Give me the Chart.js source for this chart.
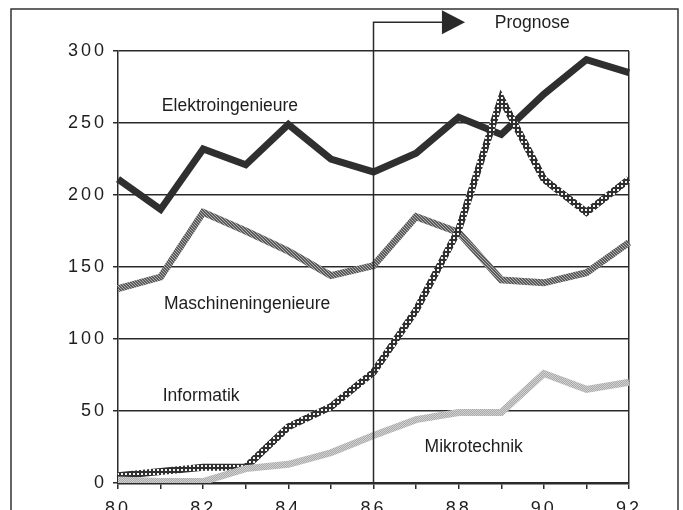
<!DOCTYPE html>
<html lang="de">
  <head>
    <meta charset="UTF-8" />
    <title>Absolventen</title>
    <script src="https://cdn.jsdelivr.net/npm/chart.js"></script>
    <style>
      html, body { margin: 0; padding: 0; background: #fff; }
      #wrap { width: 683px; height: 510px; }
    </style>
  </head>
  <body>
    <div id="wrap"><canvas id="chart"></canvas></div>
    <script>
      const years = ["80", "81", "82", "83", "84", "85", "86", "87", "88", "89", "90", "91", "92"];
      const shownYears = ["80", "82", "84", "86", "88", "90", "92"];
      const elektro = [211, 190, 232, 221, 249, 225, 216, 229, 254, 242, 270, 294, 285];
      const maschinen = [135, 143, 188, 175, 161, 144, 151, 185, 174, 141, 139, 146, 167];
      const informatik = [5, 8, 11, 11, 39, 53, 77, 120, 176, 267, 211, 188, 211];
      const mikro = [2, 1, 1, 10, 13, 21, 33, 44, 49, 49, 76, 65, 70];
      const prognoseFrom = "86";

      const FONT = "'Liberation Sans', Arial, sans-serif";
      const INK = "#2a2a2a";

      // little tiles to imitate the printed line textures
      function tile(size, bg, fg, cells) {
        const c = document.createElement("canvas");
        c.width = size;
        c.height = size;
        const g = c.getContext("2d");
        g.fillStyle = bg;
        g.fillRect(0, 0, size, size);
        g.fillStyle = fg;
        cells.forEach(([x, y, w, h]) => g.fillRect(x, y, w, h));
        return g.createPattern(c, "repeat");
      }
      const informatikTex = tile(4, "#303030", "#f4f4f4", [[1, 1, 2, 2]]);
      const maschinenTex = tile(3, "#5c5c5c", "#b0b0b0", [[0, 0, 1, 1], [1, 1, 1, 1], [2, 2, 1, 1]]);
      const mikroTex = tile(2, "#a9a9a9", "#d2d2d2", [[0, 0, 1, 1], [1, 1, 1, 1]]);

      const deco = {
        id: "deco",
        beforeDraw(chart) {
          chart.ctx.letterSpacing = "3px";
        },
        beforeDatasetsDraw(chart) {
          chart.ctx.letterSpacing = "0px";
        },
        afterDraw(chart) {
          const { ctx, scales } = chart;
          const x = scales.x, y = scales.y;
          ctx.save();
          ctx.letterSpacing = "0px";
          // outer frame
          ctx.strokeStyle = "#333";
          ctx.lineWidth = 1.5;
          ctx.strokeRect(11, 9, 667, 520);

          // Prognose marker
          const px = x.getPixelForValue(years.indexOf(prognoseFrom));
          const topY = y.getPixelForValue(320);
          const lineEnd = x.getPixelForValue(7.63);
          const tip = x.getPixelForValue(8.15);
          ctx.strokeStyle = INK;
          ctx.lineWidth = 1.5;
          ctx.beginPath();
          ctx.moveTo(px, y.getPixelForValue(0));
          ctx.lineTo(px, topY);
          ctx.lineTo(lineEnd, topY);
          ctx.stroke();
          ctx.fillStyle = INK;
          ctx.beginPath();
          ctx.moveTo(lineEnd - 1, topY - 12);
          ctx.lineTo(tip, topY);
          ctx.lineTo(lineEnd - 1, topY + 12);
          ctx.closePath();
          ctx.fill();

          // series names
          ctx.font = "17.5px " + FONT;
          ctx.fillStyle = "#1e1e1e";
          ctx.textAlign = "left";
          ctx.textBaseline = "middle";
          const names = [
            ["Prognose", 8.85, 319],
            ["Elektroingenieure", 1.03, 262],
            ["Maschineningenieure", 1.08, 124],
            ["Informatik", 1.05, 60],
            ["Mikrotechnik", 7.2, 25],
          ];
          names.forEach(([t, xi, yv]) => {
            ctx.fillText(t, x.getPixelForValue(xi), y.getPixelForValue(yv));
          });
          ctx.restore();
        },
      };

      const line = (label, data, color, order) => ({
        label,
        data,
        borderColor: color,
        borderWidth: 7,
        pointRadius: 0,
        tension: 0,
        borderJoinStyle: "miter",
        borderCapStyle: "butt",
        fill: false,
        order,
      });

      new Chart(document.getElementById("chart"), {
        type: "line",
        data: {
          labels: years,
          datasets: [
            line("Elektroingenieure", elektro, "#2f2f2f", 4),
            line("Maschineningenieure", maschinen, maschinenTex, 3),
            line("Informatik", informatik, informatikTex, 2),
            line("Mikrotechnik", mikro, mikroTex, 1),
          ],
        },
        plugins: [deco],
        options: {
          responsive: true,
          maintainAspectRatio: false,
          animation: false,
          layout: { padding: { left: 0, top: 51, right: 54, bottom: 0 } },
          plugins: {
            legend: { display: false },
            tooltip: { enabled: false },
          },
          scales: {
            x: {
              type: "category",
              offset: false,
              afterFit(s) { s.height = 27; },
              grid: {
                color: (c) => (c.index === years.length - 1 ? INK : "rgba(0,0,0,0)"),
                lineWidth: 1.5,
                tickColor: INK,
                tickLength: 6,
                tickWidth: 1.5,
              },
              border: { color: INK, width: 2.5 },
              ticks: {
                autoSkip: false,
                maxRotation: 0,
                padding: 9,
                color: "#1e1e1e",
                font: { family: FONT, size: 18 },
                callback: (v, i) => (shownYears.includes(years[i]) ? years[i] : ""),
              },
            },
            y: {
              min: 0,
              max: 300,
              afterFit(s) { s.width = 118; },
              grid: {
                color: INK,
                lineWidth: 1.5,
                tickLength: 5,
              },
              border: { color: INK, width: 1.5 },
              ticks: {
                stepSize: 50,
                padding: 6,
                color: "#1e1e1e",
                font: { family: FONT, size: 18 },
              },
            },
          },
        },
      });
    </script>
  </body>
</html>
